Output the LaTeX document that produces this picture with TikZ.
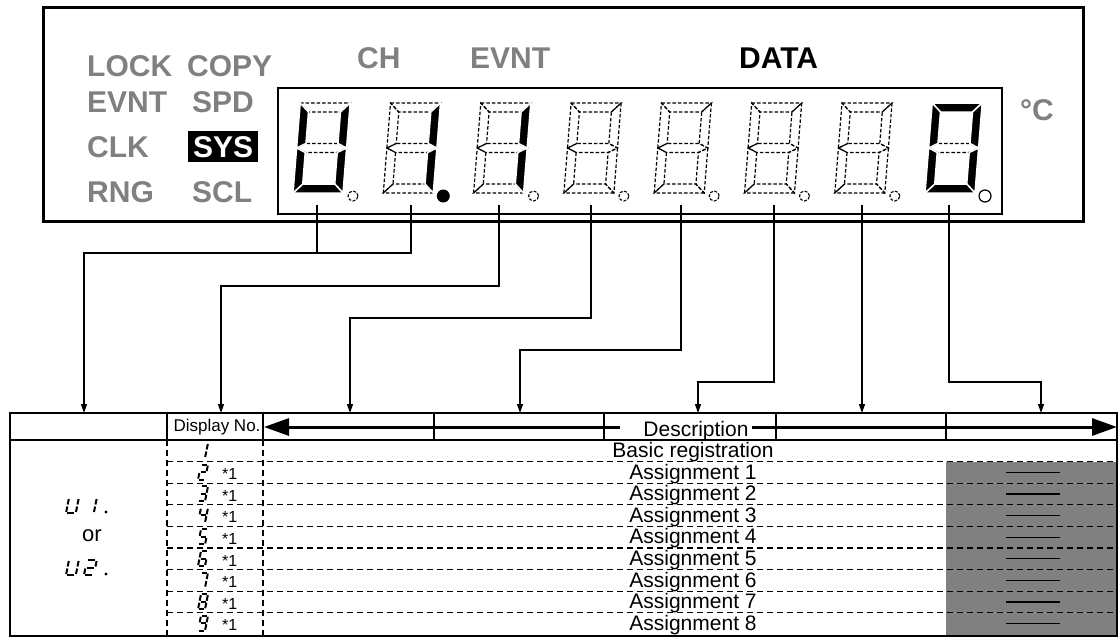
\documentclass[tikz,border=0pt]{standalone}
\usepackage{fontspec}
\setmainfont{Liberation Sans}
\usetikzlibrary{arrows.meta,calc}

\definecolor{lcdgray}{gray}{0.5}

\tikzset{
  % 7セグメント(大)の各セグメント
  sega/.style={insert path={(0,90) -- (50,90) -- (41,81) -- (9,81) -- cycle}},
  segb/.style={insert path={(50,90) -- (50,45) -- (41,49.5) -- (41,81) -- cycle}},
  segc/.style={insert path={(50,45) -- (50,0) -- (41,9) -- (41,40.5) -- cycle}},
  segd/.style={insert path={(50,0) -- (0,0) -- (9,9) -- (41,9) -- cycle}},
  sege/.style={insert path={(0,0) -- (0,45) -- (9,40.5) -- (9,9) -- cycle}},
  segf/.style={insert path={(0,45) -- (0,90) -- (9,81) -- (9,49.5) -- cycle}},
  segg/.style={insert path={(0,45) -- (9,49.5) -- (41,49.5) -- (50,45) -- (41,40.5) -- (9,40.5) -- cycle}},
  segon/.style={fill=black, draw=white, line width=1.5pt},
  segoff/.style={draw=black, line width=1.2pt, dash pattern=on 3.5pt off 2pt},
  dotoff/.style={draw=black, line width=1.1pt, dash pattern=on 3pt off 1.5pt},
  dotfull/.style={fill=black},
  dotopen/.style={draw=black, line width=1.2pt},
  % 7セグメント(小)の各セグメント
  sma/.style={insert path={(1,15) -- (6,15)}},
  smb/.style={insert path={(7,14) -- (7,8.5)}},
  smc/.style={insert path={(7,6.5) -- (7,1)}},
  smd/.style={insert path={(1,0) -- (6,0)}},
  sme/.style={insert path={(0,1) -- (0,6.5)}},
  smf/.style={insert path={(0,8.5) -- (0,14)}},
  smg/.style={insert path={(1,7.5) -- (6,7.5)}},
  glyphline/.style={line width=2pt},
  % 文字と線
  lamp/.style={anchor=base west, inner sep=0, text=lcdgray,
    font=\fontsize{30}{31}\selectfont\bfseries},
  rowtxt/.style={anchor=base, inner sep=0, font=\fontsize{21}{22}\selectfont},
  starnote/.style={anchor=base west, inner sep=0, font=\fontsize{16}{17}\selectfont},
  lead/.style={line width=1.3pt},
  leadarrow/.style={lead, -{Triangle[length=9pt,width=6pt]}},
  hdrarrow/.style={line width=3pt, -{Triangle[length=25pt,width=17pt]}},
  tblline/.style={line width=1.6pt},
  tblthin/.style={line width=1.2pt},
  tbldash/.style={line width=1.2pt, dash pattern=on 6pt off 4pt},
}

% 大きい7セグメント: x0, 点灯, 消灯, 小数点, 半径
\newcommand{\lcddigit}[5]{%
  \begin{scope}[shift={(#1,193)}, yscale=-1, xslant=-0.08]
    \foreach \s in {#3} {\edef\segcmd{\noexpand\path[segoff, seg\s];}\segcmd}
    \ifx\relax#2\relax\else
      \foreach \s in {#2} {\edef\segcmd{\noexpand\path[segon, seg\s];}\segcmd}
    \fi
  \end{scope}
  \path[#4] (#1+60,196) circle (#5);
}

% 小さい7セグメント文字
\newcommand{\segglyph}[4][]{%
  \begin{scope}[shift={(#2,#3)}, yscale=-1, xslant=-0.2, #1]
    \foreach \s in {#4} {\edef\segcmd{\noexpand\draw[glyphline, sm\s];}\segcmd}
  \end{scope}
}

\begin{document}
\begin{tikzpicture}[x=1pt, y=-1pt]

    \useasboundingbox (0,0) rectangle (1119,637);

    % 外枠と表示部の枠
    \draw[line width=3pt] (43,7) rectangle (1083,221);
    \draw[line width=2.5pt] (278,88) rectangle (1002,214);

    % ランプ表示
    \node[lamp] (lock) at (87,76) {LOCK};
    \node[lamp] (copy) at (187,76) {COPY};
    \node[lamp] (evnt) at (87,112) {EVNT};
    \node[lamp] (spd) at (192,112) {SPD};
    \node[lamp] (clk) at (87,157) {CLK};
    \node[lamp, fill=black, text=white, inner xsep=5pt, inner ysep=5pt] (sys) at (188,157) {SYS};
    \node[lamp] (rng) at (87,202) {RNG};
    \node[lamp] (scl) at (192,202) {SCL};
    \node[lamp] (ch) at (357,68) {CH};
    \node[lamp] (evnttop) at (470,68) {EVNT};
    \node[lamp, text=black] (data) at (739,68) {DATA};
    \node[lamp] (degc) at (1020,120) {°C};

    % 7セグメント表示
    \lcddigit{293}{b,c,d,e,f}{a,g}{dotoff}{5pt}
    \lcddigit{383.3}{b,c}{a,d,e,f,g}{dotfull}{6.5pt}
    \lcddigit{473.6}{b,c}{a,d,e,f,g}{dotoff}{5pt}
    \lcddigit{563.9}{}{a,b,c,d,e,f,g}{dotoff}{5pt}
    \lcddigit{654.2}{}{a,b,c,d,e,f,g}{dotoff}{5pt}
    \lcddigit{744.5}{}{a,b,c,d,e,f,g}{dotoff}{5pt}
    \lcddigit{834.8}{}{a,b,c,d,e,f,g}{dotoff}{5pt}
    \lcddigit{925}{a,b,c,d,e,f}{g}{dotopen}{6pt}

    % 引き出し線の端点
    \coordinate (d1) at (317,205);
    \coordinate (d2) at (411,205);
    \coordinate (d3) at (499,205);
    \coordinate (d4) at (591,205);
    \coordinate (d5) at (681,205);
    \coordinate (d6) at (774,205);
    \coordinate (d7) at (862,205);
    \coordinate (d8) at (949,205);

    \coordinate (j1) at (411,253);
    \coordinate (j2) at (499,286);
    \coordinate (j3) at (591,318);
    \coordinate (j4) at (681,350);
    \coordinate (j5) at (774,382);
    \coordinate (j8) at (949,382);

    \coordinate (t1) at (84,413);
    \coordinate (t2) at (221,413);
    \coordinate (t3) at (350,413);
    \coordinate (t4) at (520,413);
    \coordinate (t5) at (698,413);
    \coordinate (t6) at (862,413);
    \coordinate (t7) at (1041,413);

    % 引き出し線
    \draw[lead] (d1) -- (d1 |- j1);
    \draw[leadarrow] (d2) -- (j1) -| (t1);
    \draw[leadarrow] (d3) -- (j2) -| (t2);
    \draw[leadarrow] (d4) -- (j3) -| (t3);
    \draw[leadarrow] (d5) -- (j4) -| (t4);
    \draw[leadarrow] (d6) -- (j5) -| (t5);
    \draw[leadarrow] (d7) -- (t6);
    \draw[leadarrow] (d8) -- (j8) -| (t7);

    % 表
    \fill[lcdgray] (946,461.6) rectangle (1117,636);
    \foreach \k in {1,...,8}
        \draw[tbldash] (167,{440+21.6*\k}) -- (1117,{440+21.6*\k});
    \foreach \x in {167,263}
        \draw[tbldash] (\x,440) -- (\x,636);
    \foreach \x in {167,263,434,604,776,946}
        \draw[tblthin] (\x,413) -- (\x,440);
    \draw[tblline] (10,440) -- (1117,440);
    \draw[tblline] (10,413) rectangle (1117,636);

    % 見出し
    \node[font=\fontsize{17}{18}\selectfont, inner sep=0] (dispno) at (217,427) {Display No.};
    \node[rowtxt] (desc) at (696,436) {Description};
    \coordinate (hl) at (264,427);
    \coordinate (hr) at (1117,427);
    \draw[hdrarrow] ($(desc.west |- hl)+(-23,0)$) -- (hl);
    \draw[hdrarrow] ($(desc.east |- hr)+(3,0)$) -- (hr);

    % 内容
    \node[rowtxt] (r0) at (693,457.5) {Basic registration};
    \foreach \k in {1,...,8}
        \node[rowtxt] (r\k) at (693,{457.5+21.6*\k}) {Assignment \k};
    \foreach \k in {1,...,8}
        \draw[line width=1.3pt] (1006,{450.8+21.6*\k}) -- (1060,{450.8+21.6*\k});

    % 表示番号
    \segglyph{198}{458}{b,c}
    \segglyph{198}{479.6}{a,b,g,e,d}
    \segglyph{198}{501.2}{a,b,g,c,d}
    \segglyph{198}{522.8}{f,g,b,c}
    \segglyph{198}{544.4}{a,f,g,c,d}
    \segglyph{198}{566}{a,f,g,e,c,d}
    \segglyph{198}{587.6}{a,b,c}
    \segglyph{198}{609.2}{a,b,c,d,e,f,g}
    \segglyph{198}{630.8}{a,b,c,d,f,g}
    \foreach \k in {1,...,8}
        \node[starnote] (n\k) at (222,{458+21.6*\k}) {*1};

    % U1. / U2.
    \segglyph[xscale=1.4]{66}{513}{b,c,d,e,f}
    \segglyph[xscale=1.4]{84}{513}{b,c}
    \fill (106,512) circle (1.7pt);
    \node[font=\fontsize{22}{23}\selectfont, inner sep=0] (ortxt) at (92,536) {or};
    \segglyph[xscale=1.4]{66}{575}{b,c,d,e,f}
    \segglyph[xscale=1.4]{84}{575}{a,b,g,e,d}
    \fill (106,574) circle (1.7pt);

\end{tikzpicture}
\end{document}
